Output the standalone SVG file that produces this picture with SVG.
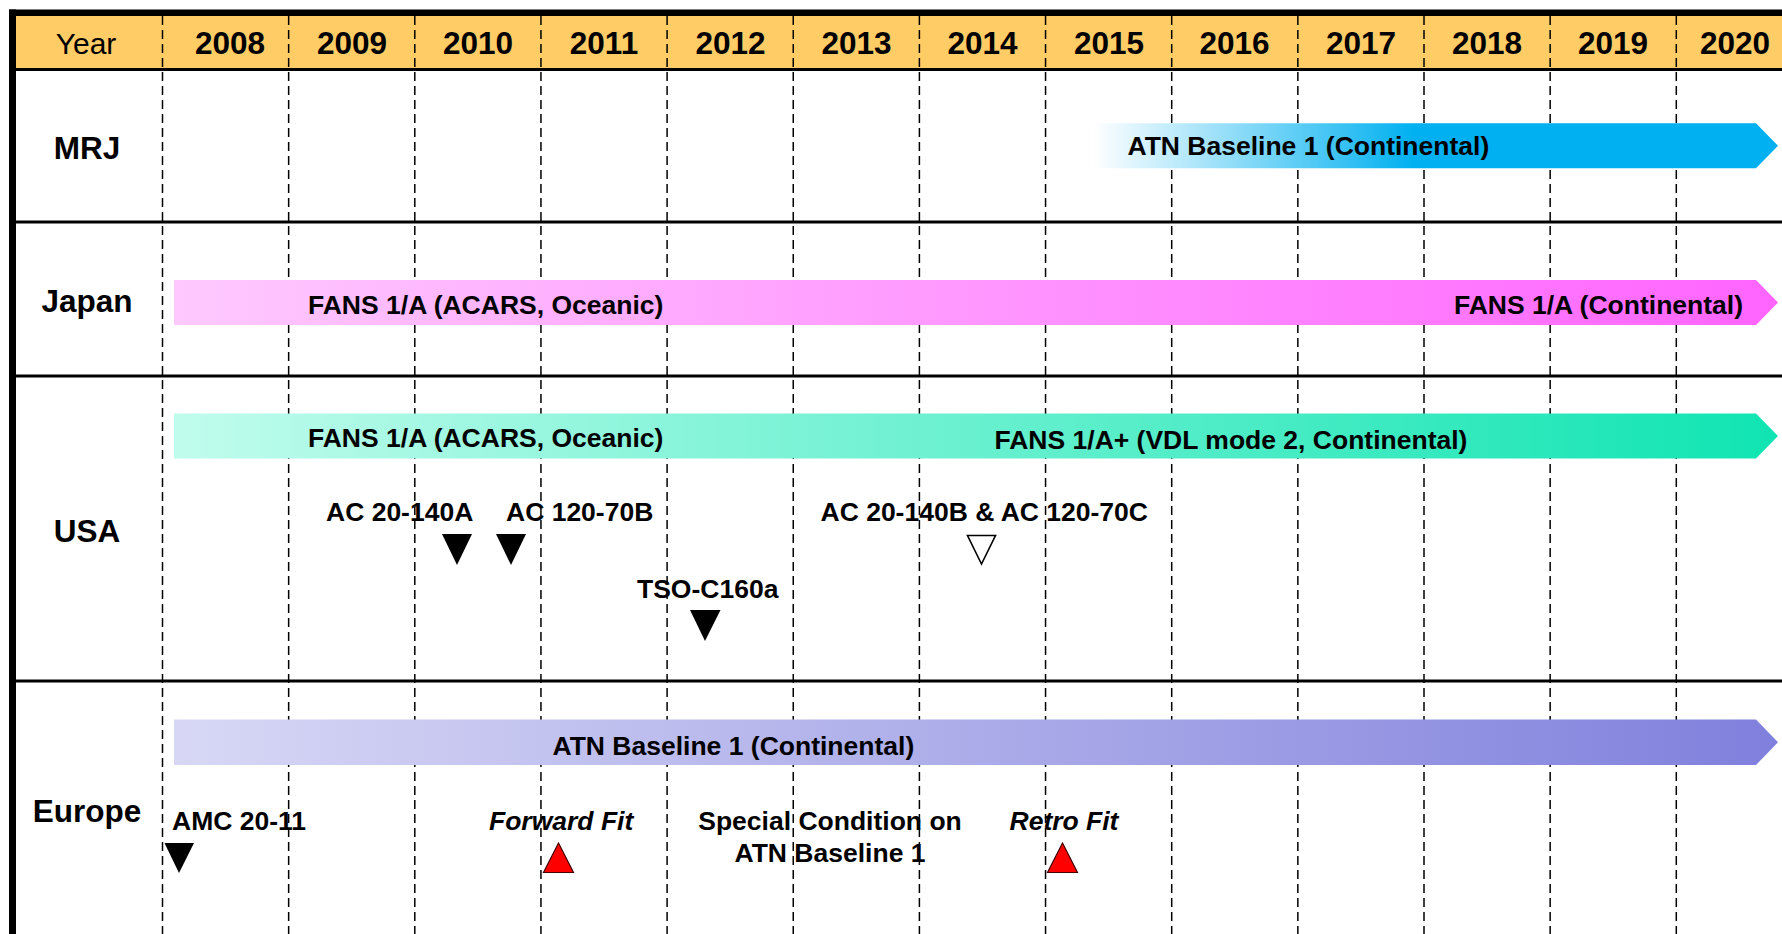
<svg xmlns="http://www.w3.org/2000/svg" width="1782" height="934" viewBox="0 0 1782 934">
<style>
text{font-family:"Liberation Sans",Arial,sans-serif;fill:#000}
.yr{font-size:31.5px;font-weight:bold;text-anchor:middle}
.row{font-size:31.5px;font-weight:bold;text-anchor:middle}
.lbl{font-size:26.5px;font-weight:bold}
.it{font-style:italic}
.grid{stroke:#000;stroke-width:1.5;stroke-dasharray:9 5;fill:none}
.rule{stroke:#000;stroke-width:3}
.tri{fill:#000}
.red{fill:#ff0000;stroke:#400;stroke-width:1.2}
.open{fill:#fff;stroke:#000;stroke-width:1.6}
</style>
<defs>
<linearGradient id="gMRJ" x1="0" y1="0" x2="1" y2="0">
<stop offset="0" stop-color="#ffffff"/>
<stop offset="0.47" stop-color="#00b0f0"/>
<stop offset="1" stop-color="#00b0f0"/>
</linearGradient>
<linearGradient id="gJP" x1="0" y1="0" x2="1" y2="0">
<stop offset="0" stop-color="#fec9fe"/>
<stop offset="1" stop-color="#ff64ff"/>
</linearGradient>
<linearGradient id="gUS" x1="0" y1="0" x2="1" y2="0">
<stop offset="0" stop-color="#c0fcec"/>
<stop offset="1" stop-color="#10e4b2"/>
</linearGradient>
<linearGradient id="gEU" x1="0" y1="0" x2="1" y2="0">
<stop offset="0" stop-color="#d7d7f5"/>
<stop offset="1" stop-color="#8080dd"/>
</linearGradient>
</defs>
<rect width="1782" height="934" fill="#fff"/>
<g id="header">
<rect x="16" y="16" width="1766" height="53" fill="#ffcc66"/>
<text x="86" y="53.5" style="font-size:30px;text-anchor:middle">Year</text>
<text class="yr" x="230" y="53.5">2008</text>
<text class="yr" x="352" y="53.5">2009</text>
<text class="yr" x="478" y="53.5">2010</text>
<text class="yr" x="604" y="53.5">2011</text>
<text class="yr" x="730.5" y="53.5">2012</text>
<text class="yr" x="856.5" y="53.5">2013</text>
<text class="yr" x="982.5" y="53.5">2014</text>
<text class="yr" x="1109" y="53.5">2015</text>
<text class="yr" x="1234.5" y="53.5">2016</text>
<text class="yr" x="1361" y="53.5">2017</text>
<text class="yr" x="1487" y="53.5">2018</text>
<text class="yr" x="1613" y="53.5">2019</text>
<text class="yr" x="1735" y="53.5">2020</text>
</g>
<g id="grid">
<line class="grid" x1="162.5" y1="16" x2="162.5" y2="934"/>
<line class="grid" x1="288.65" y1="16" x2="288.65" y2="934"/>
<line class="grid" x1="414.8" y1="16" x2="414.8" y2="934"/>
<line class="grid" x1="540.95" y1="16" x2="540.95" y2="934"/>
<line class="grid" x1="667.1" y1="16" x2="667.1" y2="934"/>
<line class="grid" x1="793.25" y1="16" x2="793.25" y2="934"/>
<line class="grid" x1="919.4" y1="16" x2="919.4" y2="934"/>
<line class="grid" x1="1045.55" y1="16" x2="1045.55" y2="934"/>
<line class="grid" x1="1171.7" y1="16" x2="1171.7" y2="934"/>
<line class="grid" x1="1297.85" y1="16" x2="1297.85" y2="934"/>
<line class="grid" x1="1424" y1="16" x2="1424" y2="934"/>
<line class="grid" x1="1550.15" y1="16" x2="1550.15" y2="934"/>
<line class="grid" x1="1676.3" y1="16" x2="1676.3" y2="934"/>
</g>
<g id="frame">
<rect x="9" y="9.5" width="1773" height="6.5" fill="#000"/>
<rect x="9" y="9.5" width="7" height="924.5" fill="#000"/>
<line class="rule" x1="16" y1="69.5" x2="1782" y2="69.5"/>
<line class="rule" x1="16" y1="222" x2="1782" y2="222"/>
<line class="rule" x1="16" y1="376" x2="1782" y2="376"/>
<line class="rule" x1="16" y1="681" x2="1782" y2="681"/>
</g>
<g id="row-MRJ">
<text class="row" x="87" y="158.5">MRJ</text>
<polygon points="1093,123.3 1756,123.3 1778,145.8 1756,168.3 1093,168.3" fill="url(#gMRJ)"/>
<text class="lbl" x="1127.5" y="154.5">ATN Baseline 1 (Continental)</text>
</g>
<g id="row-Japan">
<text class="row" x="87" y="311.5">Japan</text>
<polygon points="174,280 1756,280 1778,302.5 1756,325 174,325" fill="url(#gJP)"/>
<text class="lbl" x="308" y="313.5">FANS 1/A (ACARS, Oceanic)</text>
<text class="lbl" x="1743" y="313.5" text-anchor="end">FANS 1/A (Continental)</text>
</g>
<g id="row-USA">
<text class="row" x="87" y="541.5">USA</text>
<polygon points="174,413.5 1756,413.5 1778,436 1756,458.5 174,458.5" fill="url(#gUS)"/>
<text class="lbl" x="308" y="446.5">FANS 1/A (ACARS, Oceanic)</text>
<text class="lbl" x="994.5" y="448.5">FANS 1/A+ (VDL mode 2, Continental)</text>
</g>
<g id="m-ac20-140a">
<text class="lbl" x="326" y="521">AC 20-140A</text>
<polygon class="tri" points="442,534 472,534 457,565"/>
</g>
<g id="m-ac120-70b">
<text class="lbl" x="506" y="521">AC 120-70B</text>
<polygon class="tri" points="496,534 526,534 511,565"/>
</g>
<g id="m-tso">
<text class="lbl" x="637" y="597.5">TSO-C160a</text>
<polygon class="tri" points="690,610 720.5,610 705,641"/>
</g>
<g id="m-ac20-140b">
<text class="lbl" x="820.5" y="521">AC 20-140B &amp; AC 120-70C</text>
<polygon class="open" points="967.5,535.5 995.5,535.5 981.5,564"/>
</g>
<g id="row-Europe">
<text class="row" x="87" y="822">Europe</text>
<polygon points="174,719.5 1756,719.5 1778,742.3 1756,765 174,765" fill="url(#gEU)"/>
<text class="lbl" x="552.5" y="755">ATN Baseline 1 (Continental)</text>
</g>
<g id="m-amc">
<text class="lbl" x="172" y="830">AMC 20-11</text>
<polygon class="tri" points="164.5,843 194,843 179,873"/>
</g>
<g id="m-forward">
<text class="lbl it" x="489" y="830">Forward Fit</text>
<polygon class="red" points="558.5,843 573.5,872.5 543.5,872.5"/>
</g>
<g id="m-special">
<text class="lbl" x="830" y="830" text-anchor="middle">Special Condition on</text>
<text class="lbl" x="830" y="861.5" text-anchor="middle">ATN Baseline 1</text>
</g>
<g id="m-retro">
<text class="lbl it" x="1009.5" y="830">Retro Fit</text>
<polygon class="red" points="1062.5,843 1077.5,872.5 1047.5,872.5"/>
</g>
</svg>
